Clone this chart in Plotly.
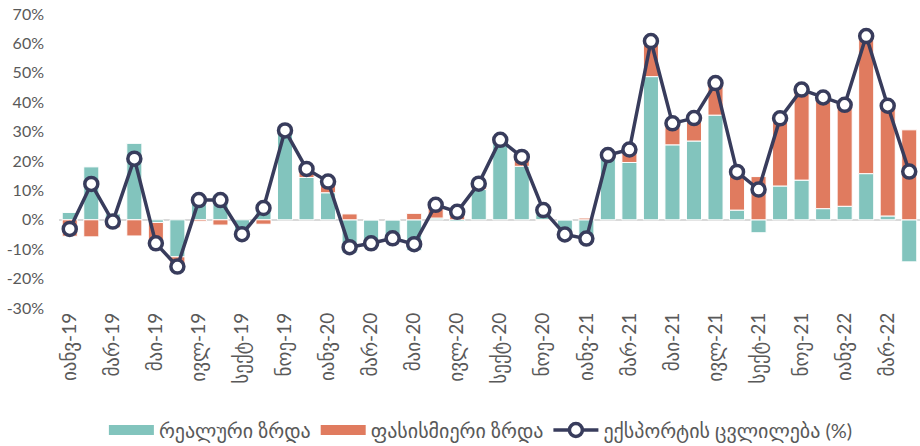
import plotly.graph_objects as go

months = []
mnames = ["იანვ", "თებ", "მარ", "აპრ", "მაი", "ივნ", "ივლ", "აგვ", "სექტ", "ოქტ", "ნოე", "დეკ"]
for yy in ["19", "20", "21", "22"]:
    for m in mnames:
        months.append(f"{m}-{yy}")
months = months[:40]  # Jan-19 .. Apr-22

real_growth = [2.5, 18.0, 2.0, 26.0, -0.9, -12.6, 7.2, 8.5, -4.5, 5.5, 30.0, 14.4,
               9.2, -11.3, -8.0, -6.3, -10.5, 0.6, -0.6, 10.3, 26.4, 18.2, 3.5, -5.0,
               -7.0, 21.5, 19.5, 48.7, 25.5, 26.8, 35.6, 3.3, -4.4, 11.5, 13.5, 3.8,
               4.6, 15.7, 1.3, -14.3]
price_growth = [-5.6, -5.8, -2.7, -5.5, -7.1, -3.3, -0.5, -1.8, -0.4, -1.5, 0.4, 2.9,
                3.8, 2.0, 0.0, 0.0, 2.2, 4.5, 3.3, 2.0, 0.8, 3.2, -0.2, 0.0,
                0.6, 0.5, 4.4, 12.1, 7.3, 7.8, 10.9, 13.0, 14.7, 23.0, 30.8, 37.8,
                34.5, 46.8, 37.5, 30.6]
export_change = [-3.1, 12.2, -0.6, 20.8, -8.0, -15.9, 6.7, 6.7, -4.9, 4.0, 30.4, 17.3,
                 13.0, -9.3, -8.0, -6.3, -8.3, 5.1, 2.7, 12.3, 27.2, 21.4, 3.3, -5.0,
                 -6.4, 22.0, 23.9, 60.8, 32.8, 34.6, 46.5, 16.3, 10.3, 34.5, 44.3, 41.6,
                 39.1, 62.5, 38.8, 16.4]

tick_labels = months[::2]
y_ticks = [-30, -20, -10, 0, 10, 20, 30, 40, 50, 60, 70]

TEAL = "#82C4BD"
ORANGE = "#E07B5F"
NAVY = "#383C5C"
FONT = "Lato, DejaVu Sans, sans-serif"

fig = go.Figure()
fig.add_trace(go.Bar(x=months, y=real_growth, name="რეალური ზრდა", showlegend=False,
                     marker=dict(color=TEAL, line=dict(color="white", width=1))))
fig.add_trace(go.Bar(x=months, y=price_growth, name="ფასისმიერი ზრდა", showlegend=False,
                     marker=dict(color=ORANGE, line=dict(color="white", width=1))))
fig.add_trace(go.Scatter(x=months, y=export_change, name="ექსპორტის ცვლილება (%)",
                         mode="lines+markers", showlegend=False,
                         line=dict(color=NAVY, width=3.5),
                         marker=dict(size=13, color="white",
                                     line=dict(color=NAVY, width=3.5))))
# legend entries
fig.add_trace(go.Scatter(x=[None], y=[None], name="რეალური ზრდა", mode="lines",
                         line=dict(color=TEAL, width=10)))
fig.add_trace(go.Scatter(x=[None], y=[None], name="ფასისმიერი ზრდა", mode="lines",
                         line=dict(color=ORANGE, width=10)))
fig.add_trace(go.Scatter(x=[None], y=[None], name="ექსპორტის ცვლილება (%)",
                         mode="lines+markers",
                         line=dict(color=NAVY, width=3.5),
                         marker=dict(size=13, color="white",
                                     line=dict(color=NAVY, width=3.5))))

fig.update_layout(
    width=920, height=446,
    margin=dict(l=59, r=0, t=14, b=138, autoexpand=False),
    barmode="relative",
    bargap=0.3,
    plot_bgcolor="white", paper_bgcolor="white",
    font=dict(family=FONT, color="#595959", size=16),
    legend=dict(orientation="h", x=0.49, xanchor="center", y=-0.415, yanchor="middle",
                font=dict(size=20, color="#595959"), traceorder="normal",
                itemwidth=45),
    xaxis=dict(type="category", tickmode="array", tickvals=tick_labels,
               ticktext=tick_labels, tickangle=-90, showgrid=False,
               range=[-0.5, len(months) - 0.5],
               showline=False, ticks="", tickfont=dict(size=19), automargin=False),
    yaxis=dict(range=[-30, 70], tickvals=y_ticks,
               ticktext=[f"{v}%" for v in y_ticks], showgrid=False,
               zeroline=True, zerolinecolor="#D9D9D9", zerolinewidth=2,
               showline=False, ticks="", tickfont=dict(size=16),
               ticklabelstandoff=14, automargin=False),
)

fig.write_html("out.html", config={"displayModeBar": False},
               post_script="document.body.style.margin='0px';")
